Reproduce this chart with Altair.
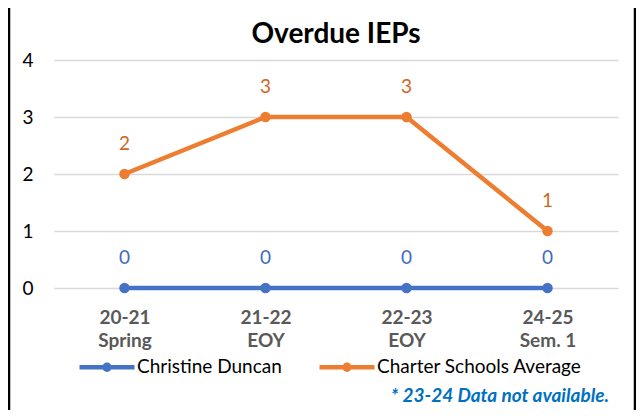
import altair as alt
import pandas as pd

years = ["20-21", "21-22", "22-23", "24-25"]
terms = ["Spring", "EOY", "EOY", "Sem. 1"]
series_names = ["Christine Duncan", "Charter Schools Average"]
christine_duncan = [0, 0, 0, 0]
charter_average = [2, 3, 3, 1]
line_colors = ["#4472C4", "#ED7D31"]
label_colors = ["#3F6BBF", "#CF661F"]
title_text = "Overdue IEPs"
footnote = "* 23-24 Data not available."

categories = [f"{y}\n{t}" for y, t in zip(years, terms)]
rows = []
for name, vals in zip(series_names, [christine_duncan, charter_average]):
    for c, v in zip(categories, vals):
        rows.append({"period": c, "series": name, "value": v})
df = pd.DataFrame(rows)

FONT = "Lato"
W, H = 564, 228

x_enc = alt.X(
    "period:N",
    sort=categories,
    scale=alt.Scale(type="point", padding=0.5),
    axis=alt.Axis(
        title=None, labelAngle=0, labelExpr="split(datum.label, '\\n')",
        labelFont=FONT, labelFontSize=19, labelFontWeight="bold",
        labelColor="#595959", labelLineHeight=23, labelPadding=20,
        domain=False, ticks=False, grid=False,
    ),
)
y_enc = alt.Y(
    "value:Q",
    scale=alt.Scale(domain=[0, 4], nice=False),
    axis=alt.Axis(
        title=None, values=[0, 1, 2, 3, 4], format="d",
        labelFont=FONT, labelFontSize=19, labelColor="#000000",
        labelPadding=21, domain=False, ticks=False,
        grid=True, gridColor="#D9D9D9", gridWidth=1.5,
    ),
)

legend_path = ("M-1,0L1,0M-0.09,0A0.09,0.09,0,1,1,0.09,0"
               "A0.09,0.09,0,1,1,-0.09,0Z")
color_enc = alt.Color(
    "series:N",
    sort=series_names,
    scale=alt.Scale(domain=series_names, range=line_colors),
    legend=alt.Legend(
        orient="none", legendX=23, legendY=277, direction="horizontal",
        title=None, symbolType=legend_path, symbolSize=3025,
        symbolStrokeWidth=4.5, labelFont=FONT, labelFontSize=19,
        labelColor="#000000", columnPadding=28, labelOffset=0, labelLimit=400,
    ),
)

base = alt.Chart(df)
lines = base.mark_line(strokeWidth=4.5).encode(x=x_enc, y=y_enc, color=color_enc)
points = base.mark_point(filled=True, size=110, opacity=1).encode(
    x=x_enc, y=y_enc,
    color=alt.Color("series:N", sort=series_names, legend=None,
                    scale=alt.Scale(domain=series_names, range=line_colors)),
)
labels = base.mark_text(dy=-30, font=FONT, fontSize=19, baseline="middle").encode(
    x=x_enc, y=y_enc, text=alt.Text("value:Q", format="d"),
    color=alt.Color("series:N", scale=alt.Scale(domain=series_names, range=label_colors),
                    legend=None),
)
title = alt.Chart(pd.DataFrame({"t": [title_text]})).mark_text(
    align="center", baseline="middle", font=FONT, fontSize=28,
    fontWeight="bold", color="#000000",
).encode(x=alt.value(W / 2), y=alt.value(-25), text="t:N")
note = alt.Chart(pd.DataFrame({"t": [footnote]})).mark_text(
    align="right", baseline="middle", font=FONT, fontSize=19,
    fontStyle="italic", fontWeight="bold", color="#0070C0",
).encode(x=alt.value(555), y=alt.value(336), text="t:N")
frame = alt.Chart(pd.DataFrame({"f": [1]})).mark_rect(
    fill=None, stroke="#000000", strokeWidth=2.5, clip=False,
).encode(x=alt.value(-45), x2=alt.value(581), y=alt.value(-80), y2=alt.value(420))

chart = alt.layer(lines, points, labels, title, note, frame).resolve_scale(
    color="independent"
).properties(
    width=W, height=H,
    autosize=alt.AutoSizeParams(type="none"),
    padding={"left": 46, "top": 52, "right": 18, "bottom": 122},
).configure_view(stroke=None)

chart.save("out.html", embed_options={"renderer": "svg", "actions": False})
